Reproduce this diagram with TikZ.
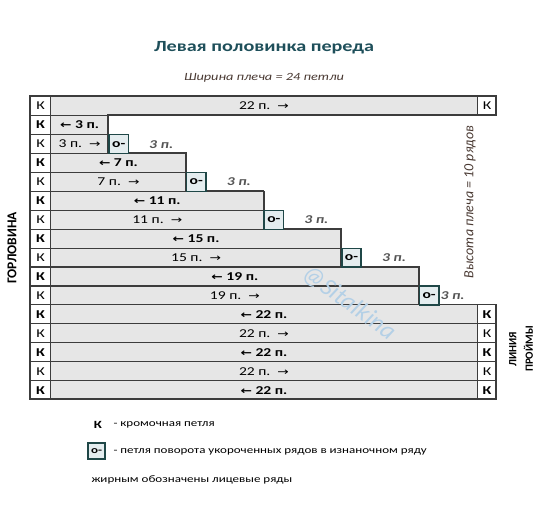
\documentclass[tikz,border=0pt]{standalone}
\usepackage{fontspec}
\usetikzlibrary{calc}
\setmainfont{Carlito}[FakeStretch=1.3]
\newfontfamily\plainfont{Carlito}
\newfontfamily\arrfont{DejaVu Sans}[FakeStretch=1.3]
\newcommand\ra{{\arrfont\fontsize{10.5}{12}\selectfont →}}
\newcommand\la{{\arrfont\fontsize{10.5}{12}\selectfont ←}}
\newcommand\rowsize{\fontsize{12}{14}\selectfont}
\definecolor{titlec}{HTML}{1E4F5A}
\definecolor{subc}{HTML}{4A3A33}
\definecolor{cellg}{HTML}{E6E6E6}
\definecolor{linec}{HTML}{3C3C3C}
\definecolor{boxc}{HTML}{1F4747}
\definecolor{boxf}{HTML}{E4EDEF}
\definecolor{wmc}{HTML}{B4D0E6}
\definecolor{threec}{HTML}{555555}
\tikzset{
  kcell/.style={draw=linec, line width=1.1pt, fill=white, minimum width=20pt, minimum height=18.94pt, inner sep=0pt, anchor=north west},
  gcell/.style={draw=linec, line width=1.1pt, fill=cellg, minimum height=18.94pt, inner sep=0pt, anchor=north west},
  obox/.style={draw=boxc, line width=1.6pt, fill=boxf, minimum width=19.4pt, minimum height=18.94pt, inner sep=0pt, font=\rowsize\bfseries},
  threelbl/.style={text=threec, font=\rowsize\bfseries\itshape},
}
\begin{document}
\begin{tikzpicture}[x=1pt,y=-1pt]
\useasboundingbox (0,0) rectangle (540,528);
\fill[white] (0,0) rectangle (540,528);
% title
\node[text=titlec, font=\fontsize{15.5}{18}\selectfont\bfseries] (title) at (264,48) {Левая половинка переда};
\node[text=subc, font=\fontsize{11}{13}\selectfont\itshape] (sub) at (264,78) {Ширина плеча = 24 петли};
% rows
\foreach \i/\R/\txt/\fs in {
  1/22/{22 п.\ \ \ra}/\mdseries,
  2/3/{\la\ 3 п.}/\bfseries,
  3/3/{3 п.\ \ \ra}/\mdseries,
  4/7/{\la\ 7 п.}/\bfseries,
  5/7/{7 п.\ \ \ra}/\mdseries,
  6/11/{\la\ 11 п.}/\bfseries,
  7/11/{11 п.\ \ \ra}/\mdseries,
  8/15/{\la\ 15 п.}/\bfseries,
  9/15/{15 п.\ \ \ra}/\mdseries,
  10/19/{\la\ 19 п.}/\bfseries,
  11/19/{19\ п.\ \ \ra}/\mdseries,
  12/22/{\la\ 22 п.}/\bfseries,
  13/22/{22 п.\ \ \ra}/\mdseries,
  14/22/{\la\ 22 п.}/\bfseries,
  15/22/{22 п.\ \ \ra}/\mdseries,
  16/22/{\la\ 22 п.}/\bfseries}
{
  \pgfmathsetmacro\yt{96+(\i-1)*18.94}
  \node[kcell, font=\rowsize\fs] (k\i) at (30,\yt) {К};
  \node[gcell, minimum width=\R*19.4, font=\rowsize\fs] (g\i) at (50,\yt) {\txt};
}
% right edge cells
\foreach \i/\fs in {1/\mdseries, 12/\bfseries, 13/\mdseries, 14/\bfseries, 15/\mdseries, 16/\bfseries}
{
  \pgfmathsetmacro\yt{96+(\i-1)*18.94}
  \node[kcell, minimum width=19.4pt, font=\rowsize\fs] (rk\i) at (476.8,\yt) {К};
}
% outline
\draw[linec, line width=1.6pt] (30,96) -| (496.2,114.94) -| (108.2,152.82) -| (185.8,190.7)
  -| (263.4,228.58) -| (341,266.46) -| (418.6,304.34) -| (496.2,399.04) -| (30,96) -- cycle;
% watermark
\node[rotate=-36, text=wmc, font=\plainfont\fontsize{25}{26}\selectfont\itshape] (wm) at (349,303) {@Sitalkina};
% turning loops
\foreach \i/\R/\off in {3/3/32, 5/7/32, 7/11/32, 9/15/32, 11/19/13}
{
  \pgfmathsetmacro\yt{96+(\i-1)*18.94}
  \pgfmathsetmacro\xb{50+\R*19.4}
  \node[obox, anchor=north west] (o\i) at (\xb,\yt) {о-};
  \node[threelbl] (t\i) at ($(o\i.east)+(\off,0)$) {3 п.};
}
% side labels
\node[rotate=90, font=\plainfont\fontsize{13.5}{16}\selectfont\bfseries] (neck) at (12,248) {ГОРЛОВИНА};
\node[rotate=90, align=center, font=\plainfont\fontsize{11}{16.5}\selectfont\bfseries] (arm) at (521,349) {ЛИНИЯ\\ПРОЙМЫ};
\node[rotate=90, text=subc, font=\plainfont\fontsize{14}{16}\selectfont\itshape] (height) at (470,202) {Высота плеча = 10 рядов};
% legend
\node[font=\fontsize{11}{13}\selectfont\bfseries] (lk) at (98,425) {К};
\node[anchor=west, font=\fontsize{10}{12}\selectfont] (lkt) at (110,425) {- кромочная петля};
\node[obox, minimum width=17pt, minimum height=16pt, font=\fontsize{10}{12}\selectfont\bfseries] (lo) at (96.5,451) {о-};
\node[anchor=west, font=\fontsize{10}{12}\selectfont] (lot) at (110,452) {- петля поворота укороченных рядов в изнаночном ряду};
\node[anchor=west, font=\fontsize{10}{12}\selectfont] (lb) at (88,480) {жирным обозначены лицевые ряды};
\end{tikzpicture}
\end{document}
